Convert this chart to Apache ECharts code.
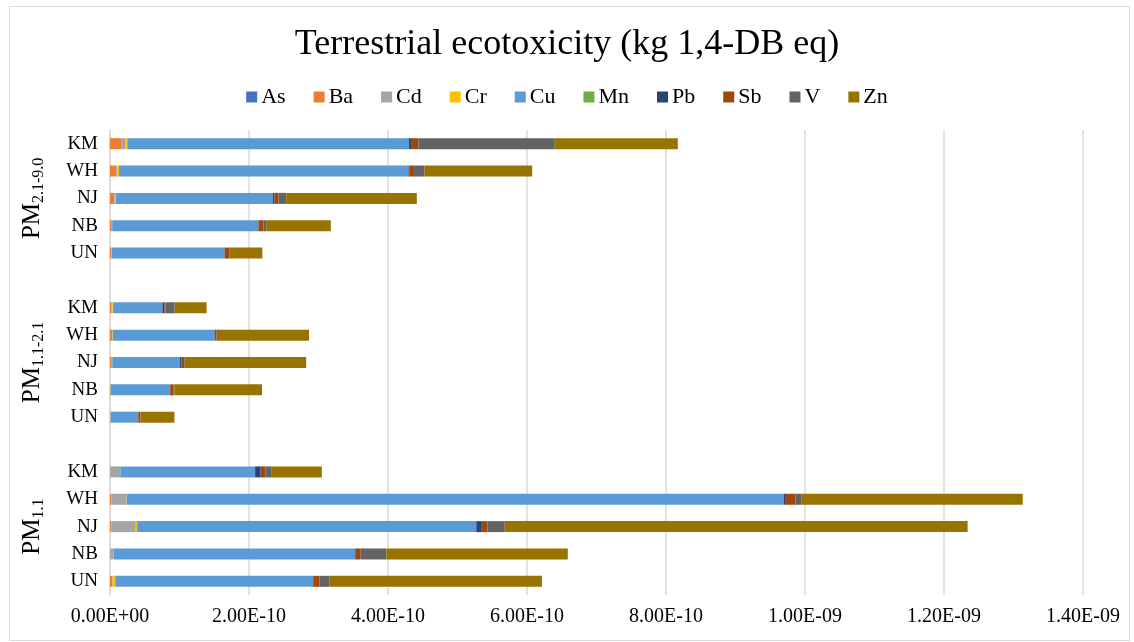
<!DOCTYPE html>
<html>
<head>
<meta charset="utf-8">
<script src="https://cdn.jsdelivr.net/npm/echarts@6/dist/echarts.min.js"></script>
<style>
html,body{margin:0;padding:0;background:#fff;}
#chart{width:1134px;height:642px;}
</style>
</head>
<body>
<div id="chart"></div>
<script>
// Values in units of 1e-10 kg 1,4-DB eq; order top to bottom, null = gap row
const categories = ['KM','WH','NJ','NB','UN','', 'KM','WH','NJ','NB','UN','', 'KM','WH','NJ','NB','UN'];
const groupLabels = ['', '', '{m|PM}{s|2.1-9.0}', '', '', '', '', '', '{m|PM}{s|1.1-2.1}', '', '', '', '', '', '{m|PM}{s|1.1}', '', ''];
const seriesNames = ['As','Ba','Cd','Cr','Cu','Mn','Pb','Sb','V','Zn'];
const seriesColors = ['#4472C4','#ED7D31','#A5A5A5','#FFC000','#5B9BD5','#70AD47','#264478','#9E480E','#636363','#997300'];

const As = [0,0,0,0,0,null, 0,0,0,0,0,null, 0,0,0,0,0];
const Ba = [0.16,0.09,0.06,0.025,0.02,null, 0.02,0.035,0.025,0.005,0.005,null, 0.005,0.02,0.02,0.005,0.035];
const Cd = [0.06,0.02,0.02,0.005,0.005,null, 0.015,0.005,0.005,0.005,0.005,null, 0.14,0.22,0.35,0.05,0.005];
const Cr = [0.03,0.02,0.005,0.002,0.002,null, 0.01,0.003,0.003,0.002,0.002,null, 0.003,0.003,0.02,0.002,0.035];
const Cu = [4.05,4.165,2.26,2.1,1.62,null, 0.71,1.46,0.975,0.85,0.39,null, 1.94,9.45,4.88,3.47,2.85];
const Mn = [0,0,0,0,0,null, 0,0,0,0,0,null, 0,0,0,0,0];
const Pb = [0.03,0.01,0.02,0.005,0.005,null, 0.03,0.005,0.02,0.005,0.005,null, 0.08,0.02,0.08,0.01,0.01];
const Sb = [0.11,0.07,0.06,0.07,0.06,null, 0.015,0.025,0.04,0.05,0.025,null, 0.07,0.15,0.08,0.07,0.08];
const V  = [1.96,0.15,0.11,0.04,0.01,null, 0.13,0.02,0.01,0.01,0.005,null, 0.08,0.09,0.25,0.37,0.14];
const Zn = [1.77,1.55,1.88,0.93,0.47,null, 0.46,1.31,1.745,1.26,0.49,null, 0.73,3.18,6.66,2.61,3.06];
const seriesValues = [As,Ba,Cd,Cr,Cu,Mn,Pb,Sb,V,Zn];

function fmtSci(v){
  const s = (v*1e-10).toExponential(2);
  const parts = s.split('e');
  let e = parseInt(parts[1],10);
  const sign = e < 0 ? '-' : '+';
  e = Math.abs(e);
  return parts[0] + 'E' + sign + (e < 10 ? '0' + e : '' + e);
}

const serif = '"Liberation Serif", "Times New Roman", serif';
const chart = echarts.init(document.getElementById('chart'), null, {renderer:'canvas'});
const option = {
  backgroundColor:'#fff',
  animation:false,
  title:{
    text:'Terrestrial ecotoxicity (kg 1,4-DB eq)',
    left:'center', top:22,
    textStyle:{fontFamily:serif, fontSize:36, fontWeight:'normal', color:'#000'}
  },
  legend:{
    top:81, left:'center',
    itemWidth:11, itemHeight:11, itemGap:28,
    icon:'rect',
    textStyle:{fontFamily:serif, fontSize:22, color:'#000', padding:[0,0,0,-1]},
    data:seriesNames
  },
  graphic:[{
    type:'rect', left:7, top:4, silent:true,
    shape:{width:1120, height:634},
    style:{fill:'none', stroke:'#d9d9d9', lineWidth:1}
  }],
  grid:{left:110, right:51, top:130, bottom:47},
  xAxis:{
    type:'value', min:0, max:14, interval:2,
    axisLine:{show:false}, axisTick:{show:false},
    splitLine:{show:true, lineStyle:{color:'#d9d9d9', width:1.5}},
    axisLabel:{formatter:fmtSci, fontFamily:serif, fontSize:20, color:'#000', margin:12}
  },
  yAxis:[{
    type:'category', inverse:true, data:categories,
    axisLine:{show:true, lineStyle:{color:'#d9d9d9', width:1.5}},
    axisTick:{show:false},
    axisLabel:{fontFamily:serif, fontSize:19, color:'#000', margin:12}
  },{
    type:'category', inverse:true, data:groupLabels, position:'left', offset:63,
    axisLine:{show:false}, axisTick:{show:false},
    axisLabel:{
      rotate:90, interval:0, margin:0,
      rich:{
        m:{fontFamily:serif, fontSize:25, color:'#000', lineHeight:30, verticalAlign:'middle'},
        s:{fontFamily:serif, fontSize:16, color:'#000', lineHeight:30, verticalAlign:'bottom'}
      }
    }
  }],
  series: seriesNames.map((n,i)=>({
    name:n, type:'bar', stack:'total', barWidth:11,
    itemStyle:{color:seriesColors[i]},
    data:seriesValues[i]
  }))
};
chart.setOption(option);
</script>
</body>
</html>
